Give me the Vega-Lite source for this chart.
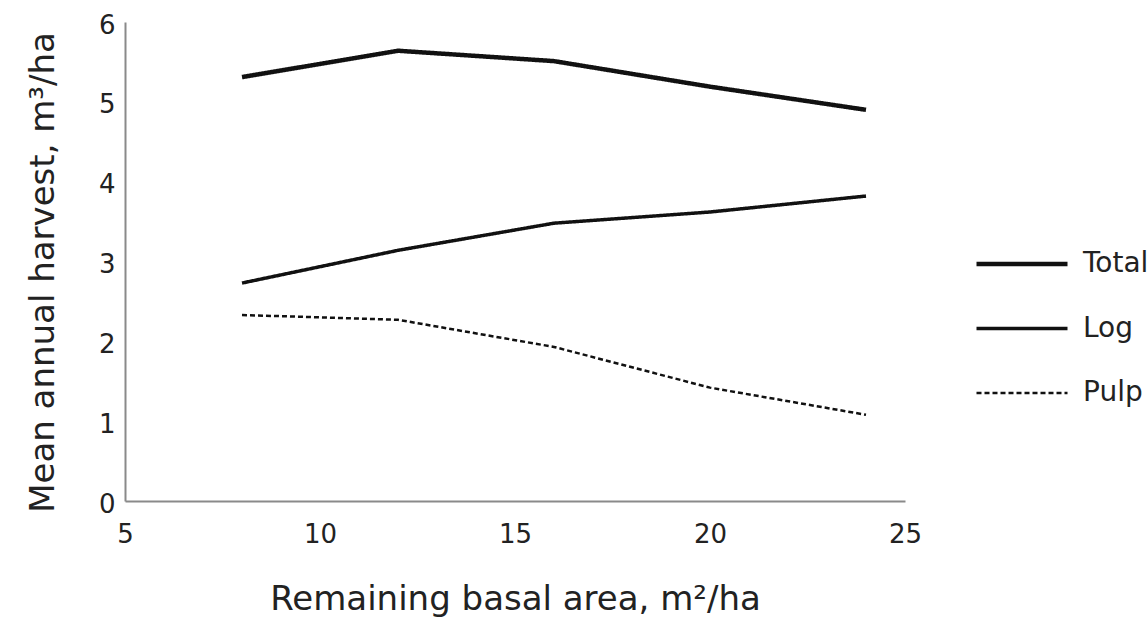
{
  "$schema": "https://vega.github.io/schema/vega-lite/v6.json",
  "width": 780,
  "height": 479,
  "autosize": {"type": "none"},
  "padding": {"left": 125, "top": 22, "right": 243, "bottom": 119},
  "background": "white",
  "config": {"view": {"stroke": null}, "font": "DejaVu Sans"},
  "data": {
    "values": [
      {"series": "Total", "basal": 8, "harvest": 5.31},
      {"series": "Total", "basal": 12, "harvest": 5.64},
      {"series": "Total", "basal": 16, "harvest": 5.51},
      {"series": "Total", "basal": 20, "harvest": 5.19},
      {"series": "Total", "basal": 24, "harvest": 4.9},
      {"series": "Log", "basal": 8, "harvest": 2.73},
      {"series": "Log", "basal": 12, "harvest": 3.14},
      {"series": "Log", "basal": 16, "harvest": 3.48},
      {"series": "Log", "basal": 20, "harvest": 3.62},
      {"series": "Log", "basal": 24, "harvest": 3.82},
      {"series": "Pulp", "basal": 8, "harvest": 2.33},
      {"series": "Pulp", "basal": 12, "harvest": 2.27},
      {"series": "Pulp", "basal": 16, "harvest": 1.93},
      {"series": "Pulp", "basal": 20, "harvest": 1.42},
      {"series": "Pulp", "basal": 24, "harvest": 1.08}
    ]
  },
  "mark": {"type": "line", "color": "#111", "strokeCap": "butt"},
  "encoding": {
    "x": {
      "field": "basal",
      "type": "quantitative",
      "scale": {"domain": [5, 25], "nice": false, "zero": false},
      "axis": {
        "values": [5, 10, 15, 20, 25],
        "ticks": false,
        "grid": false,
        "domainColor": "#8a8a8a",
        "domainWidth": 2,
        "labelFontSize": 26,
        "labelColor": "#222",
        "labelPadding": 20,
        "labelFlush": false,
        "title": "Remaining basal area, m²/ha",
        "titleFontSize": 34,
        "titleFontWeight": "normal",
        "titleColor": "#222",
        "titleY": 108,
        "titleBaseline": "alphabetic"
      }
    },
    "y": {
      "field": "harvest",
      "type": "quantitative",
      "scale": {"domain": [0, 6], "nice": false},
      "axis": {
        "values": [0, 1, 2, 3, 4, 5, 6],
        "ticks": false,
        "grid": false,
        "domainColor": "#8a8a8a",
        "domainWidth": 2,
        "labelFontSize": 26,
        "labelColor": "#222",
        "labelPadding": 10,
        "labelOffset": 3,
        "labelFlush": false,
        "title": "Mean annual harvest, m³/ha",
        "titleFontSize": 34,
        "titleFontWeight": "normal",
        "titleColor": "#222",
        "titleX": -82,
        "titleY": 250,
        "titleBaseline": "middle",
        "titleAlign": "center"
      }
    },
    "strokeWidth": {
      "field": "series",
      "type": "ordinal",
      "scale": {"domain": ["Total", "Log", "Pulp"], "range": [4.5, 2.5, 2]},
      "legend": {
        "title": null,
        "orient": "none",
        "legendX": 849,
        "legendY": 194,
        "symbolType": "stroke",
        "symbolSize": 8281,
        "symbolStrokeColor": "#111",
        "labelFontSize": 28,
        "labelColor": "#222",
        "labelOffset": 13,
        "rowPadding": 3
      }
    },
    "strokeDash": {
      "field": "series",
      "type": "ordinal",
      "scale": {"domain": ["Total", "Log", "Pulp"], "range": [[1, 0], [1, 0], [5, 3]]},
      "legend": {
        "title": null,
        "orient": "none",
        "legendX": 849,
        "legendY": 194,
        "symbolType": "stroke",
        "symbolSize": 8281,
        "symbolStrokeColor": "#111",
        "labelFontSize": 28,
        "labelColor": "#222",
        "labelOffset": 13,
        "rowPadding": 3
      }
    }
  }
}
